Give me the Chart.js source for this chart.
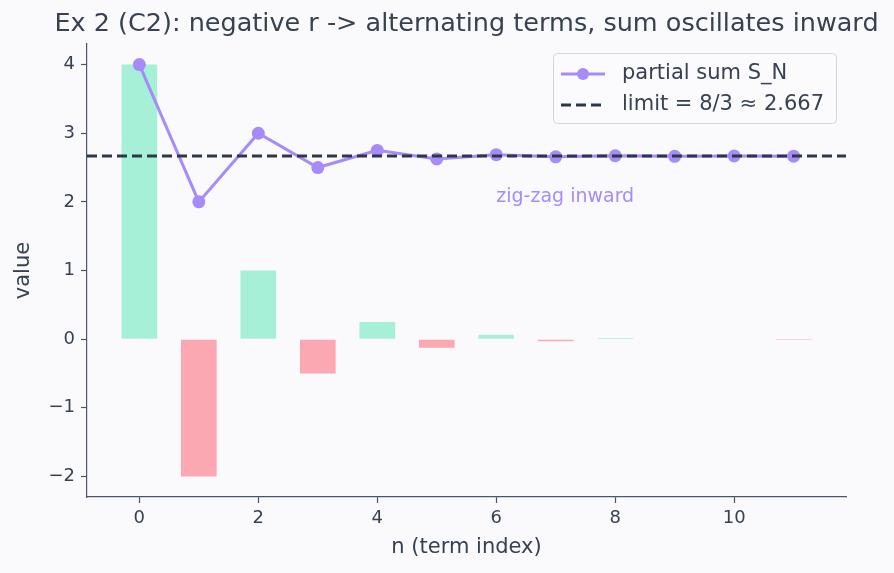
<!DOCTYPE html>
<html>
<head>
<meta charset="utf-8">
<script src="https://cdn.jsdelivr.net/npm/chart.js@4.4.1/dist/chart.umd.min.js"></script>
<style>
  html, body { margin: 0; padding: 0; background: #fafafd; }
  #wrap { width: 894px; height: 573px; }
</style>
</head>
<body>
<div id="wrap"><canvas id="chart" width="894" height="573"></canvas></div>
<script>
// data
const termIndex = [0, 1, 2, 3, 4, 5, 6, 7, 8, 9, 10, 11];
const terms = [4, -2, 1, -0.5, 0.25, -0.125, 0.0625, -0.03125, 0.015625, -0.0078125, 0.00390625, -0.001953125];
const partialSums = [4, 2, 3, 2.5, 2.75, 2.625, 2.6875, 2.65625, 2.671875, 2.6640625, 2.66796875, 2.666015625];
const limitValue = 8 / 3;
const xTicks = [0, 2, 4, 6, 8, 10];
const yTicks = [-2, -1, 0, 1, 2, 3, 4];
const xRange = [-0.88, 11.88];
const yRange = [-2.3, 4.3];

const textColor = '#374151';
const axisColor = '#4a5568';
const purple = '#a78bfa';
const dark = '#2d3748';
const font = "'DejaVu Sans', sans-serif";

const barColors = terms.map(v => v >= 0 ? '#a7f0d8' : '#fca8b3');

const overlay = {
  id: 'overlay',
  afterDraw(chart) {
    const ctx = chart.ctx;
    const area = chart.chartArea;
    const x = chart.scales.x, y = chart.scales.y;
    ctx.save();
    ctx.fillStyle = textColor;
    ctx.textAlign = 'center';
    ctx.textBaseline = 'middle';
    ctx.font = '25.5px ' + font;
    ctx.fillText('Ex 2 (C2): negative r -> alternating terms, sum oscillates inward', (area.left + area.right) / 2, 24);

    ctx.font = '21px ' + font;
    ctx.fillText('n (term index)', (area.left + area.right) / 2, 548);
    ctx.save();
    ctx.translate(24, (area.top + area.bottom) / 2);
    ctx.rotate(-Math.PI / 2);
    ctx.fillText('value', 0, 0);
    ctx.restore();

    // annotation
    ctx.fillStyle = purple;
    ctx.font = '19px ' + font;
    ctx.textAlign = 'left';
    ctx.fillText('zig-zag inward', x.getPixelForValue(6), y.getPixelForValue(2) - 5);

    // legend
    const lx = 553, ly = 53, lw = 283, lh = 70;
    ctx.fillStyle = 'rgba(250,250,253,0.85)';
    ctx.strokeStyle = '#d4d4dc';
    ctx.lineWidth = 1;
    ctx.beginPath();
    ctx.roundRect(lx + 0.5, ly + 0.5, lw, lh, 4);
    ctx.fill();
    ctx.stroke();

    ctx.strokeStyle = purple;
    ctx.lineWidth = 3;
    ctx.beginPath();
    ctx.moveTo(561, 74);
    ctx.lineTo(605, 74);
    ctx.stroke();
    ctx.fillStyle = purple;
    ctx.beginPath();
    ctx.arc(583, 74, 6, 0, Math.PI * 2);
    ctx.fill();

    ctx.strokeStyle = dark;
    ctx.lineWidth = 3;
    ctx.setLineDash([10, 5]);
    ctx.beginPath();
    ctx.moveTo(561, 105);
    ctx.lineTo(605, 105);
    ctx.stroke();
    ctx.setLineDash([]);

    ctx.fillStyle = textColor;
    ctx.font = '21px ' + font;
    ctx.fillText('partial sum S_N', 622, 74);
    ctx.fillText('limit = 8/3 \u2248 2.667', 622, 105);
    ctx.restore();
  }
};

new Chart(document.getElementById('chart'), {
  type: 'bar',
  data: {
    datasets: [
      {
        type: 'line',
        label: 'limit',
        data: xRange.map(v => ({ x: v, y: limitValue })),
        borderColor: dark,
        borderWidth: 3,
        borderDash: [10, 5],
        pointRadius: 0,
        order: 0
      },
      {
        type: 'line',
        label: 'partial sum S_N',
        data: termIndex.map((n, i) => ({ x: n, y: partialSums[i] })),
        borderColor: purple,
        backgroundColor: purple,
        borderWidth: 3,
        pointRadius: 6.5,
        pointBorderWidth: 0,
        tension: 0,
        order: 1
      },
      {
        label: 'terms',
        data: termIndex.map((n, i) => ({ x: n, y: terms[i] })),
        backgroundColor: barColors,
        borderWidth: 0,
        categoryPercentage: 1,
        barPercentage: 0.6,
        order: 2
      }
    ]
  },
  options: {
    responsive: false,
    animation: false,
    layout: { padding: { top: 44, right: 48, left: 0, bottom: 0 } },
    plugins: {
      legend: { display: false },
      tooltip: { enabled: false }
    },
    scales: {
      x: {
        type: 'linear',
        offset: false,
        min: xRange[0],
        max: xRange[1],
        afterBuildTicks: s => { s.ticks = xTicks.map(v => ({ value: v })); },
        afterFit: s => { s.height = 76; },
        grid: { offset: false, drawOnChartArea: false, color: axisColor, tickLength: 6, tickWidth: 1.2 },
        border: { color: axisColor, width: 1.2 },
        ticks: { color: textColor, font: { family: font, size: 18 }, padding: 5, maxRotation: 0 }
      },
      y: {
        min: yRange[0],
        max: yRange[1],
        afterBuildTicks: s => { s.ticks = yTicks.map(v => ({ value: v })); },
        afterFit: s => { s.width = 87; },
        grid: { drawOnChartArea: false, color: axisColor, tickLength: 6, tickWidth: 1.2 },
        border: { color: axisColor, width: 1.2 },
        ticks: {
          color: textColor,
          font: { family: font, size: 18 },
          padding: 6,
          callback: v => String(v).replace('-', '\u2212')
        }
      }
    }
  },
  plugins: [overlay]
});
</script>
</body>
</html>
